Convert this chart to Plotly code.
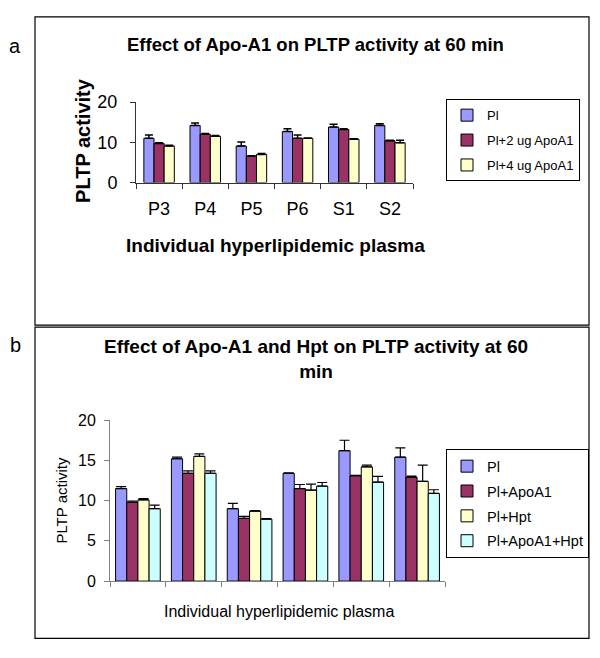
import plotly.graph_objects as go

# ---------------- data: panel a ----------------
cats_a = ["P3", "P4", "P5", "P6", "S1", "S2"]
names_a = ["Pl", "Pl+2 ug ApoA1", "Pl+4 ug ApoA1"]
pl_a = [11.0, 14.2, 9.1, 12.7, 13.8, 14.2]
pl_a_err = [0.8, 0.6, 1.0, 0.7, 0.7, 0.4]
apo2_a = [9.7, 12.0, 6.6, 11.0, 13.2, 10.4]
apo2_a_err = [0.2, 0.2, 0.1, 0.8, 0.2, 0.1]
apo4_a = [9.1, 11.5, 7.0, 11.0, 10.8, 9.9]
apo4_a_err = [0.2, 0.2, 0.2, 0.1, 0.1, 0.6]

# ---------------- data: panel b ----------------
cats_b = ["1", "2", "3", "4", "5", "6"]
names_b = ["Pl", "Pl+ApoA1", "Pl+Hpt", "Pl+ApoA1+Hpt"]
pl_b = [11.5, 15.2, 9.0, 13.4, 16.2, 15.4]
pl_b_err = [0.25, 0.2, 0.65, 0.05, 1.3, 1.15]
apo_b = [9.8, 13.4, 7.8, 11.5, 13.1, 12.9]
apo_b_err = [0.15, 0.3, 0.25, 0.5, 0.05, 0.15]
hpt_b = [10.1, 15.5, 8.7, 11.3, 14.2, 12.4]
hpt_b_err = [0.15, 0.3, 0.05, 0.75, 0.2, 2.0]
both_b = [9.0, 13.4, 7.7, 11.8, 12.3, 10.9]
both_b_err = [0.45, 0.3, 0.05, 0.45, 0.7, 0.45]

colors = ["#9999FF", "#993366", "#FFFFCC", "#CCFFFF"]

W, H = 600, 658
def px(x):
    return x / W
def py(y):
    return 1 - y / H

FONT = "Liberation Sans, Arial, sans-serif"
fig = go.Figure()

# panel a bars
series_a = [(pl_a, pl_a_err), (apo2_a, apo2_a_err), (apo4_a, apo4_a_err)]
wa = 0.22
for i, (vals, errs) in enumerate(series_a):
    fig.add_trace(go.Bar(
        x=cats_a, y=vals, name=names_a[i], xaxis="x", yaxis="y",
        width=wa, offset=-1.5 * wa + i * wa,
        marker=dict(color=colors[i], line=dict(color="black", width=1)),
        error_y=dict(type="data", symmetric=False, array=errs,
                     arrayminus=[0] * len(errs), color="black",
                     thickness=1.5, width=4),
        legend="legend", legendgroup="a%d" % i,
    ))

# panel b bars
series_b = [(pl_b, pl_b_err), (apo_b, apo_b_err), (hpt_b, hpt_b_err), (both_b, both_b_err)]
wb = 0.2
for i, (vals, errs) in enumerate(series_b):
    fig.add_trace(go.Bar(
        x=cats_b, y=vals, name=names_b[i], xaxis="x2", yaxis="y2",
        width=wb, offset=-2 * wb + i * wb,
        marker=dict(color=colors[i], line=dict(color="black", width=1)),
        error_y=dict(type="data", symmetric=False, array=errs,
                     arrayminus=[0] * len(errs), color="black",
                     thickness=1.2, width=5),
        legend="legend2", legendgroup="b%d" % i,
    ))

axcol_a = "#333333"
axcol_b = "#808080"

def ann(text, x, y, size, angle=0):
    return dict(text=text, x=px(x), y=py(y), xref="paper", yref="paper",
                xanchor="center", yanchor="middle", showarrow=False,
                textangle=angle, font=dict(size=size, family=FONT))

fig.update_layout(
    width=W, height=H, margin=dict(l=0, r=0, t=0, b=0),
    paper_bgcolor="white", plot_bgcolor="white",
    font=dict(family=FONT, color="black"),
    barmode="overlay",
    xaxis=dict(domain=[px(136), px(413)], anchor="y", showline=True,
               linecolor=axcol_a, linewidth=1, ticks="outside",
               tickson="boundaries", ticklen=5, tickcolor=axcol_a,
               showgrid=False, tickfont=dict(size=18, family=FONT),
               ticklabelstandoff=10, fixedrange=True),
    yaxis=dict(domain=[py(178), py(95)], anchor="x", range=[0, 20],
               tickvals=[0, 10, 20], showline=True, linecolor=axcol_a,
               linewidth=1, ticks="outside", ticklen=5, tickcolor=axcol_a,
               showgrid=False, zeroline=False,
               tickfont=dict(size=18, family=FONT), ticklabelstandoff=9),
    xaxis2=dict(domain=[px(110), px(445)], anchor="y2", showline=True,
                linecolor=axcol_b, linewidth=1, ticks="outside",
                tickson="boundaries", ticklen=5, tickcolor=axcol_b,
                showgrid=False, showticklabels=False),
    yaxis2=dict(domain=[py(589), py(423)], anchor="x2", range=[0, 20],
                tickvals=[0, 5, 10, 15, 20], showline=True,
                linecolor=axcol_b, linewidth=1, ticks="outside", ticklen=5,
                tickcolor=axcol_b, showgrid=False, zeroline=False,
                tickfont=dict(size=16, family=FONT), ticklabelstandoff=5),
    legend=dict(x=px(446), y=py(92), xanchor="left", yanchor="top",
                bordercolor="black", borderwidth=1, bgcolor="white",
                font=dict(size=13, family=FONT), traceorder="grouped",
                tracegroupgap=5, itemwidth=30),
    legend2=dict(x=px(446), y=py(453), xanchor="left", yanchor="top",
                 bordercolor="black", borderwidth=1, bgcolor="white",
                 font=dict(size=14.5, family=FONT), traceorder="grouped",
                 tracegroupgap=3, itemwidth=30),
    shapes=[
        dict(type="rect", xref="paper", yref="paper", x0=px(35), x1=px(589),
             y0=py(325), y1=py(7), line=dict(color="black", width=1.2)),
        dict(type="rect", xref="paper", yref="paper", x0=px(35), x1=px(589),
             y0=py(648), y1=py(327), line=dict(color="black", width=1.2)),
    ],
    annotations=[
        ann("a", 15, 37, 20),
        ann("b", 15, 346, 20),
        ann("<b>Effect of Apo-A1 on PLTP activity at 60 min</b>", 315, 36, 18.5),
        ann("<b>PLTP activity</b>", 83, 135, 20, -90),
        ann("<b>Individual hyperlipidemic plasma</b>", 275, 243, 19),
        ann("<b>Effect of Apo-A1 and Hpt on PLTP activity at 60<br>min</b>", 316, 360, 19),
        ann("PLTP activity", 62, 506, 15, -90),
        ann("Individual hyperlipidemic plasma", 279, 620, 16),
    ],
)

fig.write_html("out.html", config={"displayModeBar": False},
               post_script="document.body.style.margin='0';")
